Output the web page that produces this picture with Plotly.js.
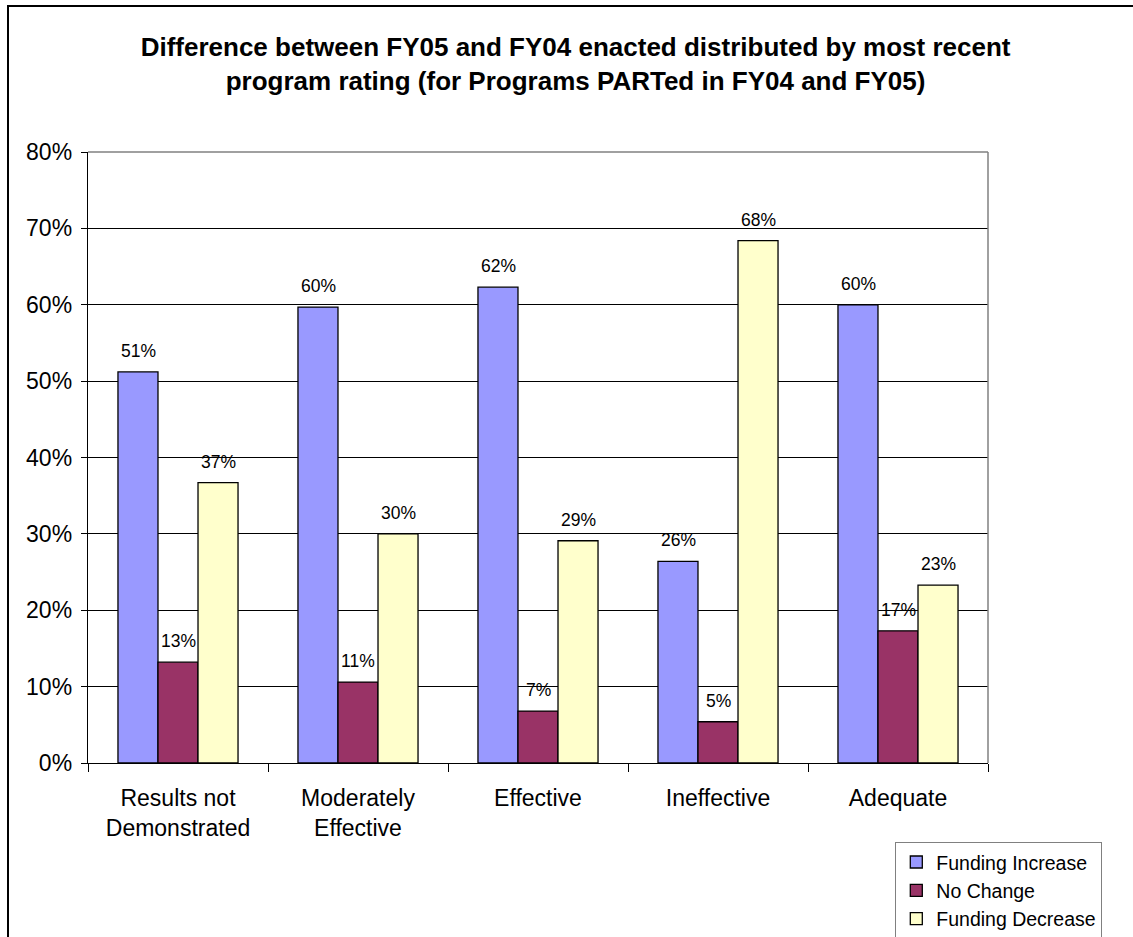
<!DOCTYPE html>
<html>
<head>
<meta charset="utf-8">
<script src="https://cdn.plot.ly/plotly-3.0.1.min.js"></script>
<style>
  html, body { margin: 0; padding: 0; background: #fff; overflow: hidden; }
  #chart { position: absolute; left: 0; top: 0; width: 1133px; height: 937px; }
  #frame { position: absolute; left: 7px; top: 5px; width: 1200px; height: 1000px;
           border-left: 2px solid #000; border-top: 2px solid #000; pointer-events: none; }
</style>
</head>
<body>
<div id="chart"></div>
<div id="frame"></div>
<script>
// Program ratings (categories)
const ratings = ['Results not<br>Demonstrated', 'Moderately<br>Effective', 'Effective', 'Ineffective', 'Adequate'];

// Share of programs per rating, by funding change FY04 -> FY05
const fundingIncrease = [0.512, 0.597, 0.623, 0.264, 0.600];
const noChange        = [0.132, 0.106, 0.068, 0.054, 0.173];
const fundingDecrease = [0.367, 0.300, 0.291, 0.684, 0.233];

const seriesNames  = ['Funding Increase', 'No Change', 'Funding Decrease'];
const seriesValues = [fundingIncrease, noChange, fundingDecrease];
const seriesColors = ['#9999FF', '#993366', '#FFFFCC'];

const yTicks = [0, 0.1, 0.2, 0.3, 0.4, 0.5, 0.6, 0.7, 0.8];

const FONT = 'Liberation Sans, Arial, Helvetica, sans-serif';

const traces = seriesNames.map((name, i) => ({
  type: 'bar',
  name: name,
  x: ratings,
  y: seriesValues[i],
  marker: { color: seriesColors[i], line: { color: '#000', width: 1.3 } },
  hoverinfo: 'skip'
}));

// Value labels above each bar, shifted to the bar's slot in the group
const barPx = 40;
const annotations = [];
seriesValues.forEach((vals, i) => {
  vals.forEach((v, j) => {
    annotations.push({
      x: ratings[j], y: v, xref: 'x', yref: 'y',
      text: Math.round(v * 100) + '%',
      showarrow: false,
      xshift: (i - 1) * barPx,
      yshift: 21,
      font: { family: FONT, size: 17.5, color: '#000' }
    });
  });
});

const layout = {
  width: 1133, height: 937,
  paper_bgcolor: '#fff', plot_bgcolor: '#fff',
  margin: { l: 88, r: 145, t: 152, b: 174, autoexpand: false },
  title: {
    text: '<b>Difference between FY05 and FY04 enacted distributed by most recent<br>program rating (for Programs PARTed in FY04 and FY05)</b>',
    font: { family: FONT, size: 26, color: '#000' },
    x: 0.508, xanchor: 'center', y: 0.94, yanchor: 'top'
  },
  barmode: 'group',
  bargap: 0.333,
  bargroupgap: 0,
  showlegend: true,
  legend: {
    x: 0.897, xanchor: 'left', y: -0.129, yanchor: 'top',
    bordercolor: '#808080', borderwidth: 1, bgcolor: '#fff',
    font: { family: FONT, size: 19.5, color: '#000' },
    traceorder: 'normal'
  },
  xaxis: {
    showline: true, linecolor: '#000', linewidth: 1.3,
    ticks: 'outside', ticklen: 8, tickcolor: '#000',
    tickson: 'boundaries',
    ticklabelstandoff: 14,
    tickfont: { family: FONT, size: 23, color: '#000' },
    mirror: false, fixedrange: true
  },
  yaxis: {
    range: [0, 0.8], tickvals: yTicks, tickformat: '.0%',
    showline: true, linecolor: '#000', linewidth: 1.3,
    ticks: 'outside', ticklen: 6, tickcolor: '#000',
    ticklabelstandoff: 4,
    showgrid: true, gridcolor: '#000', gridwidth: 1,
    zeroline: false,
    tickfont: { family: FONT, size: 23, color: '#000' },
    fixedrange: true
  },
  shapes: [
    // grey frame on the top and right of the plot area
    { type: 'line', xref: 'paper', yref: 'paper', x0: 0, x1: 1, y0: 1, y1: 1, line: { color: '#808080', width: 1.5 } },
    { type: 'line', xref: 'paper', yref: 'paper', x0: 1, x1: 1, y0: 0, y1: 1, line: { color: '#808080', width: 1.5 } }
  ],
  annotations: annotations
};

Plotly.newPlot('chart', traces, layout, { displayModeBar: false, staticPlot: true });
</script>
</body>
</html>
